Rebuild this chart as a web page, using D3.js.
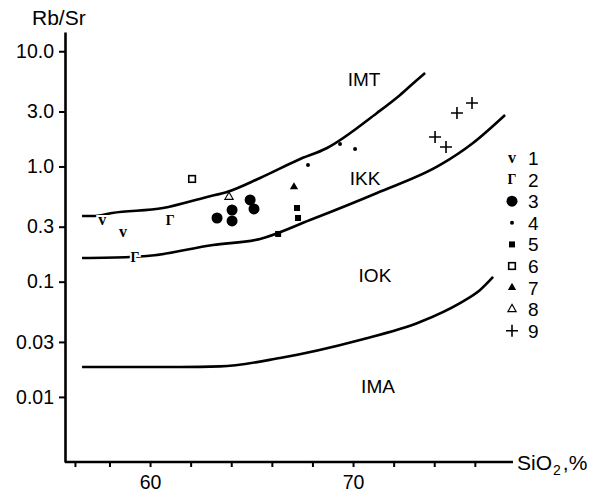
<!DOCTYPE html>
<html>
<head>
<meta charset="utf-8">
<script src="https://cdn.jsdelivr.net/npm/d3@7"></script>
<style>
  body { margin: 0; background: #fff; }
  text { font-family: "Liberation Sans", Arial, sans-serif; fill: #000; }
</style>
</head>
<body>
<div id="chart"></div>
<script>
// boundary curves [SiO2, Rb/Sr]
var curveIMT = [[56.65, 0.372], [57.29, 0.372], [58.13, 0.395], [60.64, 0.436], [62.81, 0.544],
  [63.79, 0.600], [65.42, 0.795], [67.29, 1.139], [68.72, 1.447], [71.18, 2.913],
  [72.32, 4.175], [73.15, 5.636], [73.55, 6.48]];
var curveIKK = [[56.65, 0.1606], [59.01, 0.1638], [59.85, 0.167], [63.10, 0.2083], [65.42, 0.235],
  [67.88, 0.343], [71.18, 0.5888], [74.29, 1.03], [75.91, 1.6], [77.49, 2.80]];
var curveIOK = [[56.65, 0.0182], [61.48, 0.0182], [63.45, 0.0184], [66.40, 0.02176], [70.34, 0.0312],
  [73.30, 0.0447], [75.27, 0.0653], [76.26, 0.0847], [76.90, 0.1099]];

// samples
var s1 = [[57.64, 0.343], [58.67, 0.270]];
var s2 = [[60.99, 0.343], [59.26, 0.1638]];
var s3 = [[63.30, 0.357], [64.04, 0.419], [64.04, 0.3364], [64.93, 0.512], [65.12, 0.428]];
var s4 = [[67.78, 1.03], [69.36, 1.568], [70.10, 1.419]];
var s5 = [[67.24, 0.436], [67.29, 0.357], [66.31, 0.2595]];
var s6 = [[62.07, 0.779]];
var s7 = [[67.09, 0.664]];
var s8 = [[63.89, 0.544]];
var s9 = [[74.04, 1.80], [74.58, 1.476], [75.12, 2.913], [75.86, 3.557]];

var yTicks = [10, 3, 1, 0.3, 0.1, 0.03, 0.01];
var yTickLabels = ["10.0", "3.0", "1.0", "0.3", "0.1", "0.03", "0.01"];
var xTicks = [56.3, 58, 60, 62, 64, 66, 68, 70, 72, 74, 76];
var xTickLabels = {60: "60", 70: "70"};
var fields = [["IMT", 70.54, 5.0], ["IKK", 70.59, 0.691], ["IOK", 71.08, 0.0994], ["IMA", 71.23, 0.0108]];
var legendLabels = ["1", "2", "3", "4", "5", "6", "7", "8", "9"];

var svgWidth = 600, svgHeight = 492;
var svg = d3.select("#chart").append("svg")
  .attr("width", svgWidth)
  .attr("height", svgHeight);

var x = d3.scaleLinear().domain([55.81, 77.88]).range([65, 513]);
var y = d3.scaleLog().domain([Math.pow(10, -2.565), Math.pow(10, 1.167)]).range([462, 32]);

// axes
var xAxis = svg.append("g")
  .attr("transform", "translate(0,462)")
  .call(d3.axisBottom(x).tickValues(xTicks).tickSize(5).tickSizeOuter(0)
    .tickFormat(d => xTickLabels[d] || ""));
var yAxis = svg.append("g")
  .attr("transform", "translate(65,0)")
  .call(d3.axisLeft(y).tickValues(yTicks).tickSize(6).tickSizeOuter(0)
    .tickFormat((d, i) => yTickLabels[i]));

[xAxis, yAxis].forEach(function(a) {
  a.select(".domain").attr("stroke-width", 2.6);
  a.selectAll(".tick line").attr("stroke-width", 2);
  a.selectAll(".tick text").style("font-size", "19.5px").style("font-family", "Liberation Sans, Arial, sans-serif");
});
xAxis.selectAll(".tick text").attr("dy", "0.95em");
yAxis.selectAll(".tick text").attr("x", -11);
// stretch x axis line to meet y axis
xAxis.select(".domain").attr("d", "M65,0H513");

svg.append("text").attr("x", 32).attr("y", 25).style("font-size", "21px").text("Rb/Sr");
var xl = svg.append("text").attr("x", 517).attr("y", 470).style("font-size", "21px");
xl.append("tspan").text("SiO");
xl.append("tspan").attr("dy", 5).attr("dx", 1).style("font-size", "14px").text("2");
xl.append("tspan").attr("dy", -5).attr("dx", 2).text(",%");

// curves
var line = d3.line().x(d => x(d[0])).y(d => y(d[1])).curve(d3.curveMonotoneX);
[curveIMT, curveIKK, curveIOK].forEach(function(c) {
  svg.append("path").datum(c).attr("d", line)
    .attr("fill", "none").attr("stroke", "#000").attr("stroke-width", 2.6);
});

fields.forEach(function(f) {
  svg.append("text").attr("x", x(f[1])).attr("y", y(f[2]))
    .attr("text-anchor", "middle").style("font-size", "19px").text(f[0]);
});

// marker drawing
function glyph(g, ch, px, py, size) {
  g.append("text").attr("x", px).attr("y", py + size * 0.33)
    .attr("text-anchor", "middle")
    .style("font-family", "Liberation Serif, Times New Roman, serif")
    .style("font-weight", "bold")
    .style("font-size", size + "px")
    .attr("stroke", "#fff").attr("stroke-width", 4).attr("paint-order", "stroke")
    .text(ch);
}
function marker(g, type, px, py) {
  if (type === 1) glyph(g, "v", px, py, 16);
  else if (type === 2) glyph(g, "Γ", px, py, 14);
  else if (type === 3) g.append("circle").attr("cx", px).attr("cy", py).attr("r", 5.5).attr("fill", "#000");
  else if (type === 4) g.append("circle").attr("cx", px).attr("cy", py).attr("r", 2).attr("fill", "#000");
  else if (type === 5) g.append("rect").attr("x", px - 3).attr("y", py - 3).attr("width", 6).attr("height", 6).attr("fill", "#000");
  else if (type === 6) g.append("rect").attr("x", px - 3.3).attr("y", py - 3.3).attr("width", 6.6).attr("height", 6.6)
    .attr("fill", "#fff").attr("stroke", "#000").attr("stroke-width", 1.6);
  else if (type === 7) g.append("path").attr("d", d3.symbol(d3.symbolTriangle, 30)()).attr("transform", `translate(${px},${py})`).attr("fill", "#000");
  else if (type === 8) g.append("path").attr("d", d3.symbol(d3.symbolTriangle, 30)()).attr("transform", `translate(${px},${py})`)
    .attr("fill", "#fff").attr("stroke", "#000").attr("stroke-width", 1.1);
  else if (type === 9) g.append("path").attr("d", "M-6,0H6M0,-6V6").attr("transform", `translate(${px},${py})`)
    .attr("stroke", "#000").attr("stroke-width", 1.6);
}

var pts = svg.append("g");
[s1, s2, s3, s4, s5, s6, s7, s8, s9].forEach(function(s, i) {
  s.forEach(function(d) { marker(pts, i + 1, x(d[0]), y(d[1])); });
});

// legend
var legend = svg.append("g");
legendLabels.forEach(function(l, i) {
  var ly = 158 + i * 21.6;
  marker(legend, i + 1, 512, ly);
  legend.append("text").attr("x", 528).attr("y", ly + 7).style("font-size", "19px").text(l);
});
</script>
</body>
</html>
